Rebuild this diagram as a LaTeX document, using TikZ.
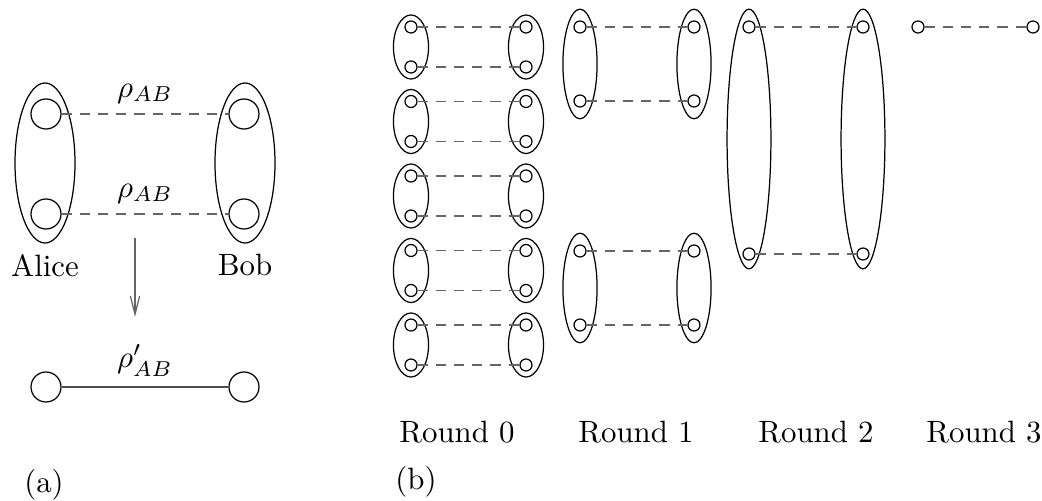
\documentclass[tikz,border=0pt]{standalone}
\usepackage{amsmath,amssymb}
\usepackage{xcolor}
\usepackage{tikz}
\usetikzlibrary{arrows.meta,positioning,shapes.geometric}

\tikzset{
    qbig/.style={draw, circle, inner sep=0pt, minimum size=0.342cm},
    qsmall/.style={draw, circle, inner sep=0pt, minimum size=0.137cm},
    grp/.style={draw, ellipse, inner sep=0pt},
    pairlink/.style={dash pattern=on 3.3pt off 2.6pt, black!60},
}

\begin{document}
\begin{tikzpicture}[x=0.0114cm, y=-0.0114cm]
    \useasboundingbox (0,0) rectangle (1042,501);

    % (a) one purification step
    \node[grp, minimum width=0.684cm, minimum height=1.824cm] (alice) at (45,163) {};
    \node[grp, minimum width=0.684cm, minimum height=1.824cm] (bob) at (245,163) {};
    \node[qbig] (a1) at (46,114) {};
    \node[qbig] (a2) at (46,214) {};
    \node[qbig] (b1) at (244,114) {};
    \node[qbig] (b2) at (244,214) {};
    \node[below=0pt of alice] {Alice};
    \node[below=0pt of bob] {Bob};
    \draw[pairlink] (a1) -- node[above, black] {$\rho_{AB}$} (b1);
    \draw[pairlink] (a2) -- node[above, black] {$\rho_{AB}$} (b2);

    \coordinate (arrtop) at (135,238);
    \coordinate (arrbot) at (135,317);
    \draw[black!60, -{Straight Barb[length=6pt, width=3pt]}] (arrtop) -- (arrbot);

    \node[qbig] (a3) at (46,387) {};
    \node[qbig] (b3) at (244,387) {};
    \draw[black!70] (a3) -- node[above, black] {$\rho'_{AB}$} (b3);
    \node (capa) at (44,485) {(a)};

    % (b) recurrence rounds
    \foreach \k [evaluate=\k as \yt using 27+74.5*\k] in {0,...,4}{
        \node[grp, minimum width=0.40cm, minimum height=0.73cm] at (411,\yt+20) {};
        \node[grp, minimum width=0.40cm, minimum height=0.73cm] at (526,\yt+20) {};
        \node[qsmall] (r0l\k t) at (411,\yt) {};
        \node[qsmall] (r0l\k b) at (411,\yt+40) {};
        \node[qsmall] (r0r\k t) at (526,\yt) {};
        \node[qsmall] (r0r\k b) at (526,\yt+40) {};
        \draw[pairlink] (r0l\k t) -- (r0r\k t);
        \draw[pairlink] (r0l\k b) -- (r0r\k b);
    }

    \foreach \k/\yt in {0/27, 1/251}{
        \node[grp, minimum width=0.39cm, minimum height=1.25cm] at (580,\yt+37) {};
        \node[grp, minimum width=0.39cm, minimum height=1.25cm] at (694,\yt+37) {};
        \node[qsmall] (r1l\k t) at (580,\yt) {};
        \node[qsmall] (r1l\k b) at (580,\yt+74) {};
        \node[qsmall] (r1r\k t) at (694,\yt) {};
        \node[qsmall] (r1r\k b) at (694,\yt+74) {};
        \draw[pairlink] (r1l\k t) -- (r1r\k t);
        \draw[pairlink] (r1l\k b) -- (r1r\k b);
    }

    \node[grp, minimum width=0.50cm, minimum height=2.96cm] at (749,139) {};
    \node[grp, minimum width=0.50cm, minimum height=2.96cm] at (863,139) {};
    \node[qsmall] (r2lt) at (749,27) {};
    \node[qsmall] (r2lb) at (749,254) {};
    \node[qsmall] (r2rt) at (863,27) {};
    \node[qsmall] (r2rb) at (863,254) {};
    \draw[pairlink] (r2lt) -- (r2rt);
    \draw[pairlink] (r2lb) -- (r2rb);

    \node[qsmall] (r3l) at (918,27) {};
    \node[qsmall] (r3r) at (1033,27) {};
    \draw[pairlink] (r3l) -- (r3r);

    \node (round0) at (457,432) {Round 0};
    \node (round1) at (636,432) {Round 1};
    \node (round2) at (816,432) {Round 2};
    \node (round3) at (984,432) {Round 3};
    \node (capb) at (416,482) {(b)};
\end{tikzpicture}
\end{document}
